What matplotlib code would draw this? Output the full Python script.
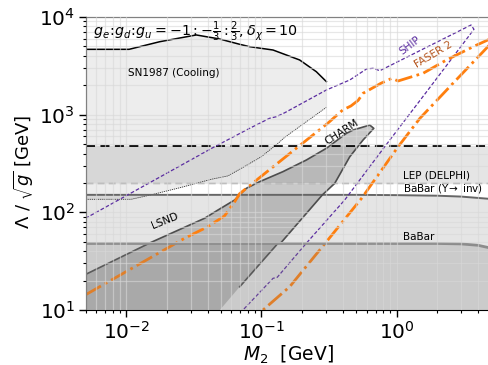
import matplotlib
matplotlib.use("Agg")
import matplotlib.pyplot as plt
from matplotlib.ticker import LogLocator, NullFormatter

# ---------------- data ----------------
# SN1987 cooling region: upper boundary and lower (thin dotted) boundary
sn_up_x = [0.005, 0.0105, 0.0177, 0.033, 0.049, 0.0693, 0.082, 0.122, 0.192, 0.255, 0.303]
sn_up_y = [4666, 4666, 5585, 6548, 5957, 5250, 4966, 4592, 3631, 2755, 2178]
sn_lo_x = [0.005, 0.0109, 0.0153, 0.0255, 0.0427, 0.0566, 0.0711, 0.1, 0.133, 0.149, 0.303]
sn_lo_y = [136, 136, 151, 180, 218, 236, 282, 371, 509, 587, 1190]

# LEP (DELPHI) band
lep_lo, lep_hi = 200, 480
# BaBar (Upsilon -> inv)
babar_ups_x = [0.005, 0.5, 1.0, 2.0, 3.0, 5.0]
babar_ups_y = [151, 151, 150, 148, 145, 137]
# BaBar
babar_x = [0.005, 2.0, 3.0, 4.0, 5.0]
babar_y = [48, 48, 47.5, 46, 43]

# LSND + CHARM excluded region (closed contour)
charm_x = [0.0049, 0.0153, 0.0380, 0.0478, 0.0634, 0.0774, 0.0971, 0.1445, 0.215, 0.303,
           0.380, 0.426, 0.478, 0.634, 0.679, 0.566, 0.451, 0.349, 0.283, 0.14, 0.132,
           0.128, 0.0692, 0.0478, 0.0049]
charm_y = [22.8, 49.3, 86.9, 105.7, 133.7, 176, 206, 261, 343, 453,
           573, 644, 697, 783, 724, 551, 371, 198, 151, 49, 48,
           45.5, 17.3, 9.5, 9.5]

# SHIP sensitivity contour
ship_x = [0.005, 0.0451, 0.0818, 0.115, 0.129, 0.149, 0.303, 0.451, 0.600, 0.671, 0.752,
          3.56, 3.74, 1.766, 0.818, 0.414, 0.215, 0.131, 0.122, 0.0731]
ship_y = [86.9, 470, 724, 918, 953, 1047, 1790, 2265, 2938, 2985, 2818,
          8280, 7480, 1901, 470, 134, 48.2, 21.6, 21.1, 10]

# FASER 2 sensitivity contour
faser_x = [0.005, 0.027, 0.0402, 0.0534, 0.0634, 0.069, 0.0867, 0.203, 0.31, 0.40, 0.46,
           0.52, 0.566, 0.766, 0.923, 1.028, 1.574, 2.345, 3.69, 4.74, 5.6,
           4.74, 2.65, 1.49, 1.028, 0.551, 0.303, 0.162, 0.1028]
faser_y = [14.3, 54.2, 71.3, 92, 128, 155, 200, 513, 817, 1117, 1228,
           1400, 1656, 2094, 2355, 2213, 2656, 3632, 4966, 5822, 6400,
           4966, 2134, 918, 470, 139, 50, 17.3, 10]

x_min, x_max = 0.005, 5.0
y_min, y_max = 10, 1e4

# ---------------- figure ----------------
fig = plt.figure(figsize=(4.88, 3.65), dpi=100)
ax = fig.add_axes([85.5 / 488, 55 / 365, (491 - 85.5) / 488, 293 / 365])
ax.set_xscale("log")
ax.set_yscale("log")

# SN1987
ax.fill(sn_up_x + sn_lo_x[::-1], sn_up_y + sn_lo_y[::-1], color="0.5", alpha=0.14, lw=0, zorder=1)
ax.plot(sn_up_x, sn_up_y, color="k", lw=1.1, zorder=2)
ax.plot(sn_lo_x, sn_lo_y, color="0.2", lw=0.6, ls=(0, (1.5, 1)), zorder=2)

# LEP band
ax.fill_between([x_min, x_max * 2], [lep_lo] * 2, [lep_hi] * 2, color="0.55", alpha=0.22, lw=0, zorder=1)
ax.axhline(lep_hi, color="k", lw=1.3, ls=(0, (5, 3)), zorder=2)
ax.axhline(lep_lo, color="0.6", lw=1.0, ls=(0, (5, 3)), zorder=2)

# BaBar Upsilon -> inv
ax.fill_between(babar_ups_x, [1] * len(babar_ups_x), babar_ups_y, color="0.55", alpha=0.22, lw=0, zorder=1)
ax.plot(babar_ups_x, babar_ups_y, color="0.4", lw=1.4, zorder=2)

# LSND + CHARM
ax.fill(charm_x, charm_y, facecolor="0.4", alpha=0.35, lw=0, zorder=1.2)
ax.plot(charm_x[:-2], charm_y[:-2], color="0.3", lw=1.2, zorder=2)

# SHIP and FASER 2
ship_c = "#5a2ca0"
faser_c = "#ff7f0e"
ax.plot(ship_x, ship_y, color=ship_c, lw=0.9, ls=(0, (3, 1.6)), zorder=2)
ax.plot(faser_x, faser_y, color=faser_c, lw=2.0, ls="-.", zorder=2)

# BaBar (drawn over the lines)
ax.fill_between(babar_x, [1] * len(babar_x), babar_y, color="0.5", alpha=0.25, lw=0, zorder=2.2)
ax.plot(babar_x, babar_y, color="0.55", lw=2.0, zorder=2.2)

ax.set_xlim(x_min, x_max)
ax.set_ylim(y_min, y_max)

# grid on top
ax.set_axisbelow(False)
ax.grid(True, which="both", color="#d8d8d8", alpha=0.6, lw=0.9)
ax.xaxis.set_minor_locator(LogLocator(base=10, subs=range(2, 10), numticks=20))
ax.yaxis.set_minor_locator(LogLocator(base=10, subs=range(2, 10), numticks=20))
ax.xaxis.set_minor_formatter(NullFormatter())
ax.yaxis.set_minor_formatter(NullFormatter())
ax.tick_params(which="major", labelsize=14.5, length=5, width=1, pad=2.5)
ax.tick_params(which="minor", length=2.5, width=0.8)
ax.spines["right"].set_visible(False)

ax.set_xlabel(r"$M_2$  [GeV]", fontsize=13.5, labelpad=1)
ax.set_ylabel(r"$\Lambda$ / $\sqrt{g}$ [GeV]", fontsize=13)
ax.yaxis.set_label_coords(-0.122, 0.47)

# labels
fs = 7.5
ax.text(0.018, 0.948,
        r"$g_e\!:\!g_d\!:\!g_u = -1 : -\frac{1}{3} : \frac{2}{3}, \delta_\chi = 10$",
        transform=ax.transAxes, fontsize=10.3, va="center", ha="left", zorder=4)
ax.text(0.0224, 2692, "SN1987 (Cooling)", fontsize=fs, ha="center", va="center", zorder=4)
ax.text(1.11, 241, "LEP (DELPHI)", fontsize=fs, ha="left", va="center", zorder=4)
ax.text(1.11, 177, r"BaBar ($\Upsilon\!\rightarrow$ inv)", fontsize=fs, ha="left", va="center", zorder=4)
ax.text(1.11, 56.4, "BaBar", fontsize=fs, ha="left", va="center", zorder=4)
ax.text(0.0193, 82, "LSND", fontsize=fs, ha="center", va="center", rotation=22, zorder=4)
ax.text(0.392, 670, "CHARM", fontsize=fs, ha="center", va="center", rotation=33, zorder=4)
ax.text(1.254, 5166, "SHIP", fontsize=fs, ha="center", va="center", rotation=37, color=ship_c, zorder=4)
ax.text(1.866, 4083, "FASER 2", fontsize=fs, ha="center", va="center", rotation=31, color="#b5541c", zorder=4)

fig.savefig("out.png", dpi=100)
